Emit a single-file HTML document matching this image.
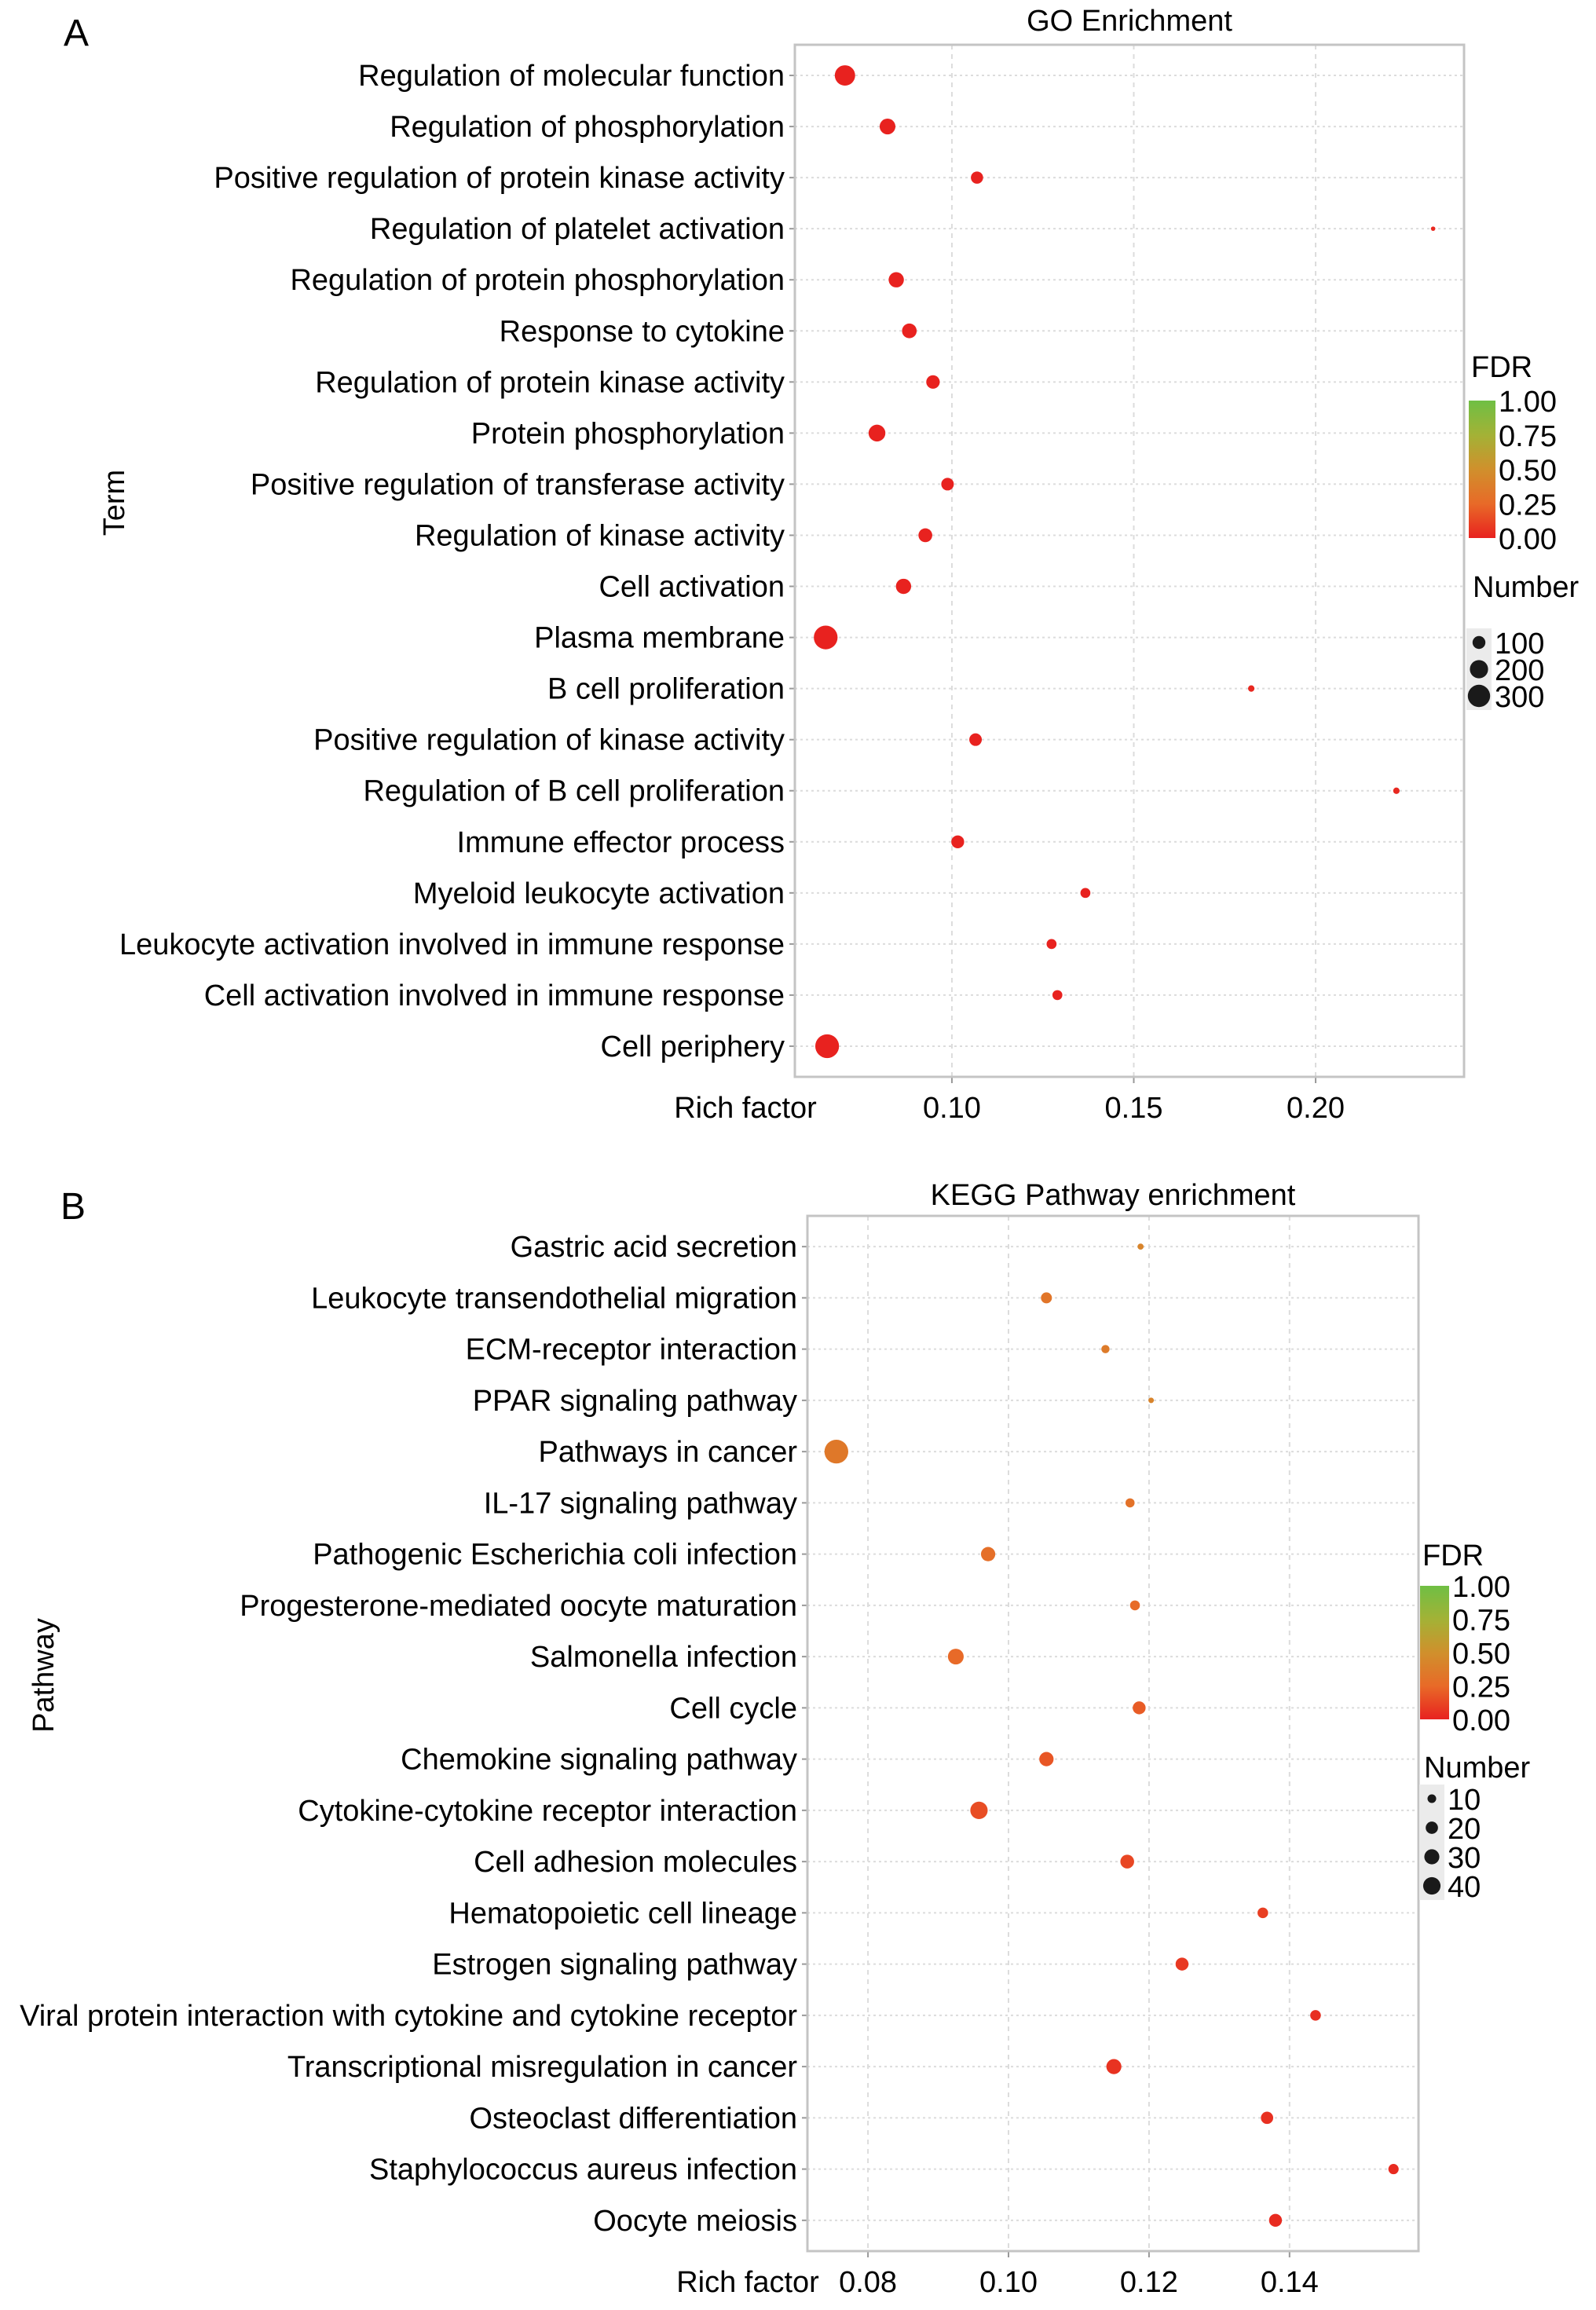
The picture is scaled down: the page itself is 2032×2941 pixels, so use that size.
<!DOCTYPE html>
<html><head><meta charset="utf-8"><style>
html,body{margin:0;padding:0;background:#fff;}
svg{display:block;font-family:"Liberation Sans",Arial,sans-serif;}
</style></head><body>
<svg id="fig" width="2032" height="2941" viewBox="0 0 2032 2941" xmlns="http://www.w3.org/2000/svg">
<defs>
<linearGradient id="fdrGrad" x1="0" y1="1" x2="0" y2="0">
<stop offset="0" stop-color="#e8221f"/><stop offset="0.25" stop-color="#e86a28"/><stop offset="0.5" stop-color="#d0902c"/><stop offset="0.75" stop-color="#a3b236"/><stop offset="1" stop-color="#6fbf44"/>
</linearGradient>
</defs>
<text x="97" y="58" font-size="48" text-anchor="middle">A</text>
<text x="93" y="1552" font-size="48" text-anchor="middle">B</text>
<g id="panelA"></g>
<g id="panelB"></g>
</svg>
<script>
// ---- Panel A data ----
const goTerms = ["Regulation of molecular function","Regulation of phosphorylation","Positive regulation of protein kinase activity","Regulation of platelet activation","Regulation of protein phosphorylation","Response to cytokine","Regulation of protein kinase activity","Protein phosphorylation","Positive regulation of transferase activity","Regulation of kinase activity","Cell activation","Plasma membrane","B cell proliferation","Positive regulation of kinase activity","Regulation of B cell proliferation","Immune effector process","Myeloid leukocyte activation","Leukocyte activation involved in immune response","Cell activation involved in immune response","Cell periphery"];
const goRich = [0.0706,0.0823,0.1069,0.2323,0.0847,0.0883,0.0948,0.0794,0.0988,0.0927,0.0867,0.0653,0.1823,0.1065,0.2222,0.1016,0.1367,0.1274,0.1290,0.0657];
const goNumber = [250,150,90,12,140,130,110,170,95,115,140,340,25,95,25,100,60,60,60,340];
const goFdr = [0,0,0,0.02,0,0,0,0,0,0,0,0,0.02,0,0.02,0,0,0,0,0];
const goTicks = [0.10,0.15,0.20];
const goSizeLegend = [100,200,300];
// ---- Panel B data ----
const keggTerms = ["Gastric acid secretion","Leukocyte transendothelial migration","ECM-receptor interaction","PPAR signaling pathway","Pathways in cancer","IL-17 signaling pathway","Pathogenic Escherichia coli infection","Progesterone-mediated oocyte maturation","Salmonella infection","Cell cycle","Chemokine signaling pathway","Cytokine-cytokine receptor interaction","Cell adhesion molecules","Hematopoietic cell lineage","Estrogen signaling pathway","Viral protein interaction with cytokine and cytokine receptor","Transcriptional misregulation in cancer","Osteoclast differentiation","Staphylococcus aureus infection","Oocyte meiosis"];
const keggRich = [0.1188,0.1054,0.1138,0.1203,0.0755,0.1173,0.0971,0.1180,0.0925,0.1186,0.1054,0.0958,0.1169,0.1362,0.1247,0.1437,0.1150,0.1368,0.1548,0.1380];
const keggNumber = [5,16,9,4,75,11,27,13,33,22,27,40,25,15,22,15,30,20,14,22];
const keggFdr = [0.42,0.32,0.36,0.42,0.34,0.3,0.28,0.26,0.25,0.2,0.18,0.15,0.13,0.1,0.08,0.05,0.06,0.05,0.03,0.03];
const keggTicks = [0.08,0.10,0.12,0.14];
const keggSizeLegend = [10,20,30,40];

const NS="http://www.w3.org/2000/svg";
function mk(parent,tag,attrs,text){const e=document.createElementNS(NS,tag);for(const k in attrs)e.setAttribute(k,attrs[k]);if(text!==undefined)e.textContent=text;parent.appendChild(e);return e;}
function lerp(a,b,t){return Math.round(a+(b-a)*t);}
const stops=[[0,[232,34,31]],[0.25,[232,106,40]],[0.5,[208,144,44]],[0.75,[163,178,54]],[1,[111,191,68]]];
function fdrColor(v){for(let i=0;i<stops.length-1;i++){const[a,ca]=stops[i],[b,cb]=stops[i+1];if(v<=b){const t=(v-a)/(b-a);return `rgb(${lerp(ca[0],cb[0],t)},${lerp(ca[1],cb[1],t)},${lerp(ca[2],cb[2],t)})`;}}return "rgb(111,191,68)";}

function drawPanel(g,cfg){
  const {terms,rich,num,fdr,ticks,sizeLeg,L,R,T,B,x0,x1,sizeK,title,titleY,ylab,ylabX,ylabY,leg}=cfg;
  const x=v=>L+(v-x0)/(x1-x0)*(R-L);
  const n=terms.length, pad=(B-T)/ (n+0.2) *0.6;
  const y=i=>T+pad+i*((B-T-2*pad)/(n-1));
  const r=v=>sizeK*Math.sqrt(v);
  const t=mk(g,'text',{x:(L+R)/2,y:titleY,'font-size':38,'text-anchor':'middle'},title);
  
  
  ticks.forEach((tv,i)=>{
    const gl=mk(g,'line',{x1:x(tv),x2:x(tv),y1:T,y2:B,stroke:'#dcdcdc','stroke-width':2,'stroke-dasharray':'6 6'});
    
    
    const tk=mk(g,'line',{x1:x(tv),x2:x(tv),y1:B,y2:B+8,stroke:'#999','stroke-width':2});
    
    
    const tl=mk(g,'text',{x:x(tv),y:B+52,'font-size':38,'text-anchor':'middle'},tv.toFixed(2));
    
    
  });
  terms.forEach((name,i)=>{
    const yy=y(i);
    const hl=mk(g,'line',{x1:L,x2:R,y1:yy,y2:yy,stroke:'#dcdcdc','stroke-width':2,'stroke-dasharray':'3 4'});
    
    
    const tk=mk(g,'line',{x1:L-7,x2:L,y1:yy,y2:yy,stroke:'#999','stroke-width':2});
    
    
    const lb=mk(g,'text',{x:L-13,y:yy+13,'font-size':38,'text-anchor':'end'},name);
    
    
  });
  const fr=mk(g,'rect',{x:L,y:T,width:R-L,height:B-T,fill:'none',stroke:'#c4c4c4','stroke-width':3});
  
  
  terms.forEach((name,i)=>{
    const c=mk(g,'circle',{cx:x(rich[i]),cy:y(i),r:r(num[i]),fill:fdrColor(fdr[i])});
    
    
  });
  const rf=mk(g,'text',{x:cfg.rfX,y:B+52,'font-size':38,'text-anchor':'middle'},'Rich factor');
  
  
  const yl=mk(g,'text',{x:ylabX,y:ylabY,'font-size':38,'text-anchor':'middle',transform:`rotate(-90 ${ylabX} ${ylabY})`},ylab);
  
  
  const ft=mk(g,'text',{x:leg.x,y:leg.fdrY,'font-size':38},'FDR');
  
  
  const cb=mk(g,'rect',{x:leg.x-3,y:leg.cbT,width:leg.cbW,height:leg.cbB-leg.cbT,fill:'url(#fdrGrad)'});
  
  
  ['1.00','0.75','0.50','0.25','0.00'].forEach((s,i)=>{
    const yy=leg.cbT+i*(leg.cbB-leg.cbT)/4+14;
    const tl=mk(g,'text',{x:leg.x-3+leg.cbW+4,y:yy,'font-size':38},s);
    
    
  });
  const nt=mk(g,'text',{x:leg.x+2,y:leg.numY,'font-size':38},'Number');
  
  
  const bg=mk(g,'rect',{x:leg.dotX-16,y:leg.dotY0-18,width:32,height:(sizeLeg.length-1)*leg.dotStep+36,fill:'#ebebeb'});
  
  
  sizeLeg.forEach((v,i)=>{
    const yy=leg.dotY0+i*leg.dotStep;
    const d=mk(g,'circle',{cx:leg.dotX,cy:yy,r:r(v),fill:'#1a1a1a'});
    
    
    const tl=mk(g,'text',{x:leg.dotX+20,y:yy+14,'font-size':38},String(v));
    
    
  });
}
drawPanel(document.getElementById('panelA'),{terms:goTerms,rich:goRich,num:goNumber,fdr:goFdr,ticks:goTicks,sizeLeg:goSizeLegend,
  L:1012,R:1864,T:57,B:1371,x0:0.10-200/231.6*0.05,x1:0.20+189/231.6*0.05,sizeK:0.82,title:'GO Enrichment',titleY:39,
  ylab:'Term',ylabX:158,ylabY:640,rfX:949,
  leg:{x:1873,fdrY:480,cbT:510,cbB:685,cbW:34,numY:760,dotX:1883,dotY0:818,dotStep:34}});
drawPanel(document.getElementById('panelB'),{terms:keggTerms,rich:keggRich,num:keggNumber,fdr:keggFdr,ticks:keggTicks,sizeLeg:keggSizeLegend,
  L:1028,R:1806,T:1548,B:2866,x0:0.08-(1104-1027)/178.7*0.02,x1:0.14+(1804-1640)/178.7*0.02,sizeK:1.75,title:'KEGG Pathway enrichment',titleY:1534,
  ylab:'Pathway',ylabX:68,ylabY:2133,rfX:952,
  leg:{x:1811,fdrY:1993,cbT:2019,cbB:2189,cbW:37,numY:2263,dotX:1823,dotY0:2290,dotStep:37}});
</script>
</body></html>
